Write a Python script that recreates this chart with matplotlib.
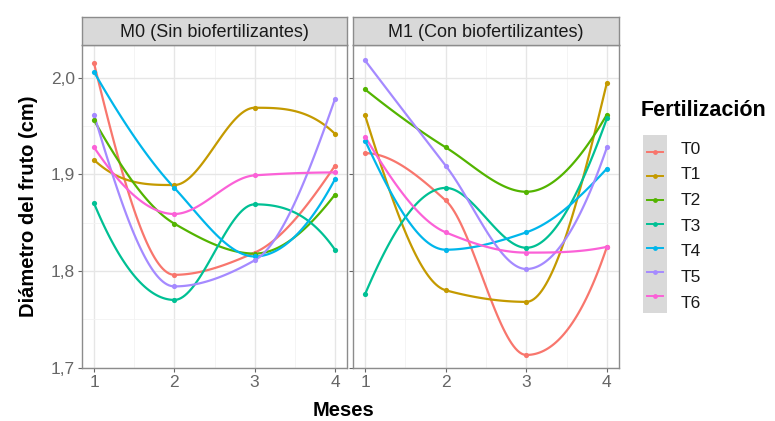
import numpy as np
import matplotlib
matplotlib.use('Agg')
import matplotlib.pyplot as plt
from matplotlib.patches import Rectangle

plt.rcParams['font.family'] = ['Liberation Sans', 'DejaVu Sans']

# data
meses = [1, 2, 3, 4]
tratamientos = ['T0', 'T1', 'T2', 'T3', 'T4', 'T5', 'T6']
colores = ['#F8766D', '#C49A00', '#53B400', '#00C094', '#00B6EB', '#A58AFF', '#FB61D7']
paneles = ['M0 (Sin biofertilizantes)', 'M1 (Con biofertilizantes)']

m0_t0 = [2.015, 1.796, 1.819, 1.909]
m0_t1 = [1.915, 1.889, 1.969, 1.942]
m0_t2 = [1.956, 1.849, 1.818, 1.879]
m0_t3 = [1.870, 1.770, 1.869, 1.822]
m0_t4 = [2.006, 1.886, 1.815, 1.895]
m0_t5 = [1.962, 1.784, 1.811, 1.978]
m0_t6 = [1.928, 1.859, 1.899, 1.902]

m1_t0 = [1.922, 1.873, 1.713, 1.825]
m1_t1 = [1.961, 1.780, 1.768, 1.995]
m1_t2 = [1.988, 1.928, 1.882, 1.962]
m1_t3 = [1.776, 1.886, 1.824, 1.958]
m1_t4 = [1.935, 1.822, 1.840, 1.906]
m1_t5 = [2.018, 1.909, 1.802, 1.928]
m1_t6 = [1.939, 1.840, 1.819, 1.825]

datos = [
    [m0_t0, m0_t1, m0_t2, m0_t3, m0_t4, m0_t5, m0_t6],
    [m1_t0, m1_t1, m1_t2, m1_t3, m1_t4, m1_t5, m1_t6],
]


def pchip(x, y, n=120):
    # monotone cubic (Fritsch-Carlson) through the points
    x = np.asarray(x, float)
    y = np.asarray(y, float)
    h = np.diff(x)
    delta = np.diff(y) / h
    k = len(x)
    m = np.zeros(k)
    for i in range(1, k - 1):
        if delta[i - 1] * delta[i] > 0:
            w1 = 2 * h[i] + h[i - 1]
            w2 = h[i] + 2 * h[i - 1]
            m[i] = (w1 + w2) / (w1 / delta[i - 1] + w2 / delta[i])
    # end points
    for i, (d0, d1, h0, h1) in ((0, (delta[0], delta[1], h[0], h[1])),
                                (k - 1, (delta[-1], delta[-2], h[-1], h[-2]))):
        d = ((2 * h0 + h1) * d0 - h0 * d1) / (h0 + h1)
        if np.sign(d) != np.sign(d0):
            d = 0.0
        elif np.sign(d0) != np.sign(d1) and abs(d) > abs(3 * d0):
            d = 3 * d0
        m[i] = d
    xs = np.linspace(x[0], x[-1], n)
    ys = np.empty_like(xs)
    for j, xv in enumerate(xs):
        i = min(np.searchsorted(x, xv, side='right') - 1, k - 2)
        t = (xv - x[i]) / h[i]
        h00 = 2 * t ** 3 - 3 * t ** 2 + 1
        h10 = t ** 3 - 2 * t ** 2 + t
        h01 = -2 * t ** 3 + 3 * t ** 2
        h11 = t ** 3 - t ** 2
        ys[j] = h00 * y[i] + h10 * h[i] * m[i] + h01 * y[i + 1] + h11 * h[i] * m[i + 1]
    return xs, ys


W, H = 775, 421
fig = plt.figure(figsize=(W / 100, H / 100), dpi=100)

def fx(px):
    return px / W

def fy(py):
    return 1 - py / H

panel_x = [(82, 347), (353, 619)]
top, bottom, strip_top = 45, 368, 17
tick_col = '#666666'

for p, (x0, x1) in enumerate(panel_x):
    ax = fig.add_axes([fx(x0), fy(bottom), fx(x1 - x0), fy(top) - fy(bottom)])
    ax.set_xlim(0.85, 4.15)
    ax.set_ylim(1.6995, 2.034)
    ax.set_xticks(meses)
    ax.set_xticks([1.5, 2.5, 3.5], minor=True)
    ax.set_yticks([1.7, 1.8, 1.9, 2.0])
    ax.set_yticks([1.75, 1.85, 1.95], minor=True)
    ax.grid(which='major', color='#E6E6E6', lw=1.0)
    ax.grid(which='minor', color='#F2F2F2', lw=0.6)
    ax.set_axisbelow(True)
    for s in ax.spines.values():
        s.set_color('#8C8C8C')
        s.set_linewidth(1.0)
    ax.tick_params(which='major', length=3, color='#666666', labelsize=12.5,
                   labelcolor=tick_col, pad=2)
    ax.tick_params(which='minor', length=0)
    if p == 0:
        ax.set_yticklabels(['1,7', '1,8', '1,9', '2,0'])
    else:
        ax.set_yticklabels([])

    for serie, col in zip(datos[p], colores):
        xs, ys = pchip(meses, serie)
        ax.plot(xs, ys, color=col, lw=1.6, solid_capstyle='round')
        ax.scatter(meses, serie, color=col, s=14, zorder=3, linewidths=0)

    # strip
    sax = fig.add_axes([fx(x0), fy(top), fx(x1 - x0), fy(strip_top) - fy(top)])
    sax.set_facecolor('#D9D9D9')
    sax.set_xticks([])
    sax.set_yticks([])
    for s in sax.spines.values():
        s.set_color('#8C8C8C')
        s.set_linewidth(1.0)
    sax.text(0.5, 0.45, paneles[p], ha='center', va='center', fontsize=13,
             color='#1A1A1A', transform=sax.transAxes)

# axis titles
fig.text(fx(343), fy(410), 'Meses', ha='center', va='center',
         fontsize=14.5, fontweight='bold')
fig.text(fx(28), fy(206), 'Diámetro del fruto (cm)', ha='center', va='center',
         rotation=90, fontsize=14.5, fontweight='bold')

# legend
fig.text(fx(641), fy(110), 'Fertilización', ha='left', va='center',
         fontsize=15.5, fontweight='bold')
lax = fig.add_axes([fx(643), fy(313), fx(24), fy(135) - fy(313)])
lax.set_xlim(0, 1)
lax.set_ylim(6.5 + 0.2, -0.5 - 0.2)
lax.axis('off')
lax.add_patch(Rectangle((0, -0.7), 1, 7.4, color='#D9D9D9', zorder=0))
for i, (t, col) in enumerate(zip(tratamientos, colores)):
    lax.plot([0.15, 0.85], [i, i], color=col, lw=1.4)
    lax.scatter([0.5], [i], color=col, s=12, zorder=3, linewidths=0)
    fig.text(fx(681), fy(149 + i * 25.7), t, ha='left', va='center',
             fontsize=12.5, color='#1A1A1A')

fig.savefig('out.png', dpi=100)
